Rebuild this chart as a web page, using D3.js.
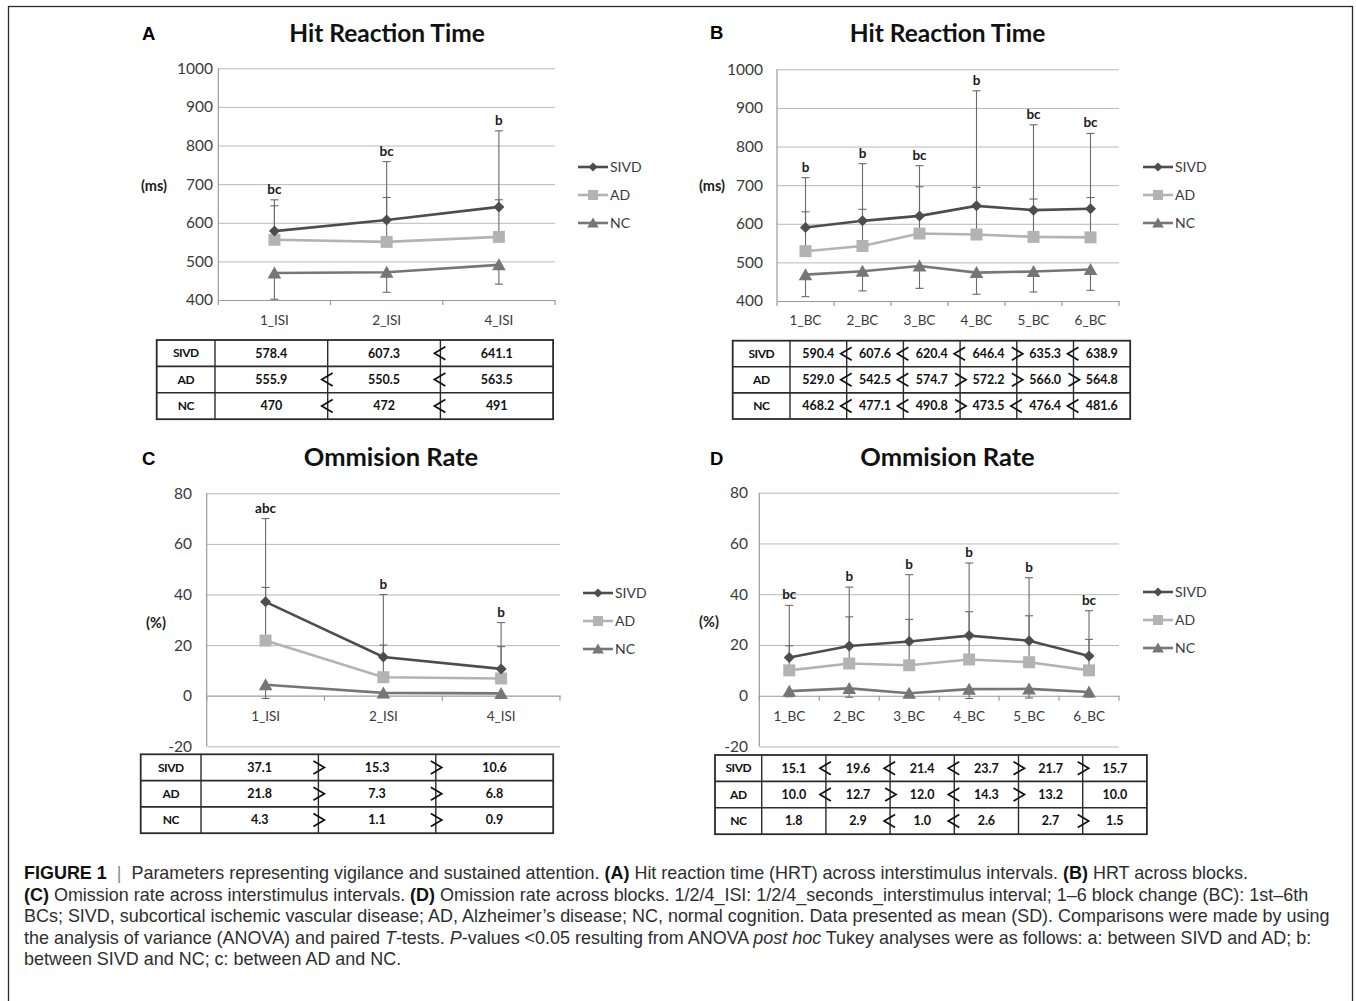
<!DOCTYPE html>
<html><head><meta charset="utf-8">
<script src="https://cdn.jsdelivr.net/npm/d3@7"></script>
<style>
body{margin:0;background:#fff}
svg{display:block}
</style>
</head><body>
<svg id="fig" width="1356" height="1001"></svg>
<script>
// ---------------- DATA ----------------
const groups = ["SIVD", "AD", "NC"];
const isiCats = ["1_ISI", "2_ISI", "4_ISI"];
const bcCats = ["1_BC", "2_BC", "3_BC", "4_BC", "5_BC", "6_BC"];
const hrtTicks = [400, 500, 600, 700, 800, 900, 1000];
const omTicks = [-20, 0, 20, 40, 60, 80];

// Panel A: Hit reaction time across ISI
const hrtIsiSIVD = [578.4, 607.3, 641.1];
const hrtIsiAD = [555.9, 550.5, 563.5];
const hrtIsiNC = [470, 472, 491];
const hrtIsiSdSIVD = [81, 151, 197];
const hrtIsiSdAD = [88, 115, 96];
const hrtIsiSdNC = [68, 52, 50];
const hrtIsiSig = ["bc", "bc", "b"];
const hrtIsiCmpSIVD = ["", "<"];
const hrtIsiCmpAD = ["<", "<"];
const hrtIsiCmpNC = ["<", "<"];

// Panel B: Hit reaction time across blocks
const hrtBcSIVD = [590.4, 607.6, 620.4, 646.4, 635.3, 638.9];
const hrtBcAD = [529.0, 542.5, 574.7, 572.2, 566.0, 564.8];
const hrtBcNC = [468.2, 477.1, 490.8, 473.5, 476.4, 481.6];
const hrtBcSdSIVD = [129, 148, 130, 298, 221, 195];
const hrtBcSdAD = [102, 95, 121, 122, 98, 103];
const hrtBcSdNC = [57, 51, 58, 56, 53, 54];
const hrtBcSig = ["b", "b", "bc", "b", "bc", "bc"];
const hrtBcCmpSIVD = ["<", "<", "<", ">", "<"];
const hrtBcCmpAD = ["<", "<", ">", ">", ">"];
const hrtBcCmpNC = ["<", "<", ">", "<", "<"];

// Panel C: Omission rate across ISI
const omIsiSIVD = [37.1, 15.3, 10.6];
const omIsiAD = [21.8, 7.3, 6.8];
const omIsiNC = [4.3, 1.1, 0.9];
const omIsiSdSIVD = [32.9, 24.7, 18.3];
const omIsiSdAD = [21.0, 12.7, 12.6];
const omIsiSdNC = [5.4, 1.3, 1.2];
const omIsiSig = ["abc", "b", "b"];
const omIsiCmpSIVD = [">", ">"];
const omIsiCmpAD = [">", ">"];
const omIsiCmpNC = [">", ">"];

// Panel D: Omission rate across blocks
const omBcSIVD = [15.1, 19.6, 21.4, 23.7, 21.7, 15.7];
const omBcAD = [10.0, 12.7, 12.0, 14.3, 13.2, 10.0];
const omBcNC = [1.8, 2.9, 1.0, 2.6, 2.7, 1.5];
const omBcSdSIVD = [20.5, 23.2, 26.3, 28.6, 24.8, 17.8];
const omBcSdAD = [9.7, 18.4, 18.1, 18.8, 18.3, 12.2];
const omBcSdNC = [2.2, 3.5, 1.5, 3.7, 3.6, 2.0];
const omBcSig = ["bc", "b", "b", "b", "b", "bc"];
const omBcCmpSIVD = ["<", "<", "<", ">", ">"];
const omBcCmpAD = ["<", ">", "<", ">", ""];
const omBcCmpNC = ["", "<", "<", "", ">"];

// ---------------- STYLE ----------------
const colors = {SIVD: "#4d4d4d", AD: "#b3b3b3", NC: "#767676"};
const errDir = {SIVD: 1, AD: 1, NC: -1};
const FONT = "Lato, 'Open Sans', sans-serif";

const fmt1 = v => v.toFixed(1);
const fmtA = v => Number.isInteger(v) ? String(v) : v.toFixed(1);

const panels = [
  {label: "A", title: "Hit Reaction Time", unit: "(ms)", cats: isiCats, ticks: hrtTicks, axisAt: 400,
   means: {SIVD: hrtIsiSIVD, AD: hrtIsiAD, NC: hrtIsiNC}, sds: {SIVD: hrtIsiSdSIVD, AD: hrtIsiSdAD, NC: hrtIsiSdNC},
   sig: hrtIsiSig, cmp: {SIVD: hrtIsiCmpSIVD, AD: hrtIsiCmpAD, NC: hrtIsiCmpNC}, fmt: fmtA,
   L: {x0: 218.3, x1: 555, yTop: 68.3, yBot: 300, tickRight: 213, unitX: 154, unitY: 186, titleX: 387, titleY: 42, titleFs: 24.5,
       panelX: 142, panelY: 40, legX: 578, legY: 167, catDy: 20,
       tab: {x: 156.7, hw: 58.3, cw: 112.7, y: 340, rh: 26.4}}},
  {label: "B", title: "Hit Reaction Time", unit: "(ms)", cats: bcCats, ticks: hrtTicks, axisAt: 400,
   means: {SIVD: hrtBcSIVD, AD: hrtBcAD, NC: hrtBcNC}, sds: {SIVD: hrtBcSdSIVD, AD: hrtBcSdAD, NC: hrtBcSdNC},
   sig: hrtBcSig, cmp: {SIVD: hrtBcCmpSIVD, AD: hrtBcCmpAD, NC: hrtBcCmpNC}, fmt: fmt1,
   L: {x0: 777, x1: 1119, yTop: 69.3, yBot: 301, tickRight: 763, unitX: 712, unitY: 186, titleX: 947.5, titleY: 42, titleFs: 24.5,
       panelX: 710, panelY: 39, legX: 1143, legY: 167, catDy: 19,
       tab: {x: 732.7, hw: 57.3, cw: 56.7, y: 340.7, rh: 26.1}}},
  {label: "C", title: "Ommision Rate", unit: "(%)", cats: isiCats, ticks: omTicks, axisAt: 0,
   means: {SIVD: omIsiSIVD, AD: omIsiAD, NC: omIsiNC}, sds: {SIVD: omIsiSdSIVD, AD: omIsiSdAD, NC: omIsiSdNC},
   sig: omIsiSig, cmp: {SIVD: omIsiCmpSIVD, AD: omIsiCmpAD, NC: omIsiCmpNC}, fmt: fmt1,
   L: {x0: 206.7, x1: 560, yTop: 493.3, yBot: 746.3, tickRight: 192, unitX: 156, unitY: 623, titleX: 391, titleY: 466, titleFs: 25.5,
       panelX: 142, panelY: 465, legX: 583, legY: 593, catDy: 21,
       tab: {x: 140.7, hw: 60.3, cw: 117.4, y: 754.3, rh: 26.3}}},
  {label: "D", title: "Ommision Rate", unit: "(%)", cats: bcCats, ticks: omTicks, axisAt: 0,
   means: {SIVD: omBcSIVD, AD: omBcAD, NC: omBcNC}, sds: {SIVD: omBcSdSIVD, AD: omBcSdAD, NC: omBcSdNC},
   sig: omBcSig, cmp: {SIVD: omBcCmpSIVD, AD: omBcCmpAD, NC: omBcCmpNC}, fmt: fmt1,
   L: {x0: 759.3, x1: 1119, yTop: 492.7, yBot: 746.5, tickRight: 748, unitX: 709, unitY: 622, titleX: 947.5, titleY: 466, titleFs: 25.5,
       panelX: 710, panelY: 465, legX: 1143, legY: 592, catDy: 20.3,
       tab: {x: 715, hw: 46.7, cw: 64.2, y: 755, rh: 26.4}}}
];

const markerPath = {
  SIVD: "M0,-5.5L5.5,0L0,5.5L-5.5,0Z",
  AD: "M-6,-6H6V6H-6Z",
  NC: "M0,-6.5L6.8,5.5L-6.8,5.5Z"
};
const legendMarker = {
  SIVD: "M0,-4.5L4.5,0L0,4.5L-4.5,0Z",
  AD: "M-5,-5H5V5H-5Z",
  NC: "M0,-5.5L5.8,4.5L-5.8,4.5Z"
};

const svg = d3.select("#fig");
svg.append("rect").attr("width", 1356).attr("height", 1001).attr("fill", "#fff");
svg.append("rect").attr("x", 8.5).attr("y", 6.5).attr("width", 1344).attr("height", 1010)
  .attr("fill", "none").attr("stroke", "#2a2a2a").attr("stroke-width", 1.3);

function drawPanel(p) {
  const L = p.L;
  const g = svg.append("g");
  const x = d3.scaleBand().domain(p.cats).range([L.x0, L.x1]);
  const cx = c => x(c) + x.bandwidth() / 2;
  const y = d3.scaleLinear().domain(d3.extent(p.ticks)).range([L.yBot, L.yTop]);

  // grid
  const grid = g.append("g").attr("transform", `translate(${L.x0},0)`)
    .call(d3.axisLeft(y).tickValues(p.ticks.filter(v => v !== p.axisAt)).tickSize(-(L.x1 - L.x0)).tickFormat(""));
  grid.select(".domain").remove();
  grid.selectAll("line").attr("stroke", "#b8b8b8").attr("stroke-width", 1);

  // y labels
  const ya = g.append("g").attr("transform", `translate(${L.x0},0)`)
    .call(d3.axisLeft(y).tickValues(p.ticks).tickSize(0).tickPadding(L.x0 - L.tickRight).tickFormat(d => String(d)));
  ya.select(".domain").remove();
  ya.selectAll("text").attr("font-family", FONT).attr("font-size", 15.5).attr("fill", "#3a3a3a");

  // y axis line
  g.append("line").attr("x1", L.x0).attr("x2", L.x0).attr("y1", L.yTop).attr("y2", L.yBot)
    .attr("stroke", "#9a9a9a").attr("stroke-width", 1.2);

  // x axis
  const xa = g.append("g").attr("transform", `translate(0,${y(p.axisAt)})`)
    .call(d3.axisBottom(x).tickSize(0));
  xa.select(".domain").attr("stroke", "#9a9a9a").attr("stroke-width", 1.2);
  xa.selectAll("text").attr("font-family", FONT).attr("font-size", 13.5).attr("fill", "#3a3a3a")
    .attr("y", L.catDy).attr("dy", "0.35em");
  const bounds = p.cats.map(c => x(c)).concat([L.x1]);
  g.selectAll("line.xt").data(bounds).join("line")
    .attr("x1", d => d).attr("x2", d => d).attr("y1", y(p.axisAt)).attr("y2", y(p.axisAt) + 5)
    .attr("stroke", "#9a9a9a").attr("stroke-width", 1.2);

  // error bars
  groups.forEach(grp => {
    const eb = g.append("g");
    p.cats.forEach((c, i) => {
      const m = p.means[grp][i], e = m + errDir[grp] * p.sds[grp][i];
      eb.append("line").attr("x1", cx(c)).attr("x2", cx(c)).attr("y1", y(m)).attr("y2", y(e))
        .attr("stroke", "#6a6a6a").attr("stroke-width", 1.1);
      eb.append("line").attr("x1", cx(c) - 4).attr("x2", cx(c) + 4).attr("y1", y(e)).attr("y2", y(e))
        .attr("stroke", "#6a6a6a").attr("stroke-width", 1.1);
    });
  });

  // lines + markers
  ["AD", "NC", "SIVD"].forEach(grp => {
    const pts = p.cats.map((c, i) => [cx(c), y(p.means[grp][i])]);
    g.append("path").attr("d", d3.line()(pts)).attr("fill", "none")
      .attr("stroke", colors[grp]).attr("stroke-width", 2.6);
    g.selectAll(null).data(pts).join("path")
      .attr("transform", d => `translate(${d[0]},${d[1]})`).attr("d", markerPath[grp]).attr("fill", colors[grp]);
  });

  // significance letters
  g.selectAll("text.sig").data(p.cats).join("text")
    .attr("x", c => cx(c))
    .attr("y", (c, i) => y(p.means.SIVD[i] + p.sds.SIVD[i]) - 6)
    .attr("text-anchor", "middle").attr("font-family", FONT).attr("font-weight", "bold")
    .attr("font-size", 13.5).attr("fill", "#1a1a1a").text((c, i) => p.sig[i]);

  // unit label
  g.append("text").attr("x", L.unitX).attr("y", L.unitY).attr("dy", "0.35em").attr("text-anchor", "middle")
    .attr("font-family", FONT).attr("font-weight", "bold").attr("font-size", 14.5).attr("fill", "#1a1a1a").text(p.unit);

  // title
  g.append("text").attr("x", L.titleX).attr("y", L.titleY).attr("text-anchor", "middle")
    .attr("font-family", FONT).attr("font-weight", "bold").attr("font-size", L.titleFs).attr("fill", "#111").text(p.title);
  // panel letter
  g.append("text").attr("x", L.panelX).attr("y", L.panelY)
    .attr("font-family", "'Liberation Sans', Arial, sans-serif").attr("font-weight", "bold")
    .attr("font-size", 18.5).attr("fill", "#000").text(p.label);

  // legend
  groups.forEach((grp, i) => {
    const ly = L.legY + i * 28;
    g.append("line").attr("x1", L.legX).attr("x2", L.legX + 30).attr("y1", ly).attr("y2", ly)
      .attr("stroke", colors[grp]).attr("stroke-width", 2.6);
    g.append("path").attr("transform", `translate(${L.legX + 15},${ly})`).attr("d", legendMarker[grp]).attr("fill", colors[grp]);
    g.append("text").attr("x", L.legX + 32).attr("y", ly).attr("dy", "0.35em")
      .attr("font-family", FONT).attr("font-size", 14).attr("fill", "#3a3a3a").text(grp);
  });

  // table
  const T = L.tab;
  const n = p.cats.length;
  const tw = T.hw + n * T.cw, th = 3 * T.rh;
  const tg = g.append("g");
  const stroke = "#2b2b2b";
  tg.append("rect").attr("x", T.x).attr("y", T.y).attr("width", tw).attr("height", th)
    .attr("fill", "none").attr("stroke", stroke).attr("stroke-width", 1.8);
  [1, 2].forEach(r => tg.append("line").attr("x1", T.x).attr("x2", T.x + tw)
    .attr("y1", T.y + r * T.rh).attr("y2", T.y + r * T.rh).attr("stroke", stroke).attr("stroke-width", 1.6));
  d3.range(n).forEach(j => tg.append("line").attr("x1", T.x + T.hw + j * T.cw).attr("x2", T.x + T.hw + j * T.cw)
    .attr("y1", T.y).attr("y2", T.y + th).attr("stroke", stroke).attr("stroke-width", 1.4));
  groups.forEach((grp, r) => {
    const ry = T.y + (r + 0.5) * T.rh;
    tg.append("text").attr("x", T.x + T.hw / 2).attr("y", ry).attr("dy", "0.35em").attr("text-anchor", "middle")
      .attr("font-family", FONT).attr("font-weight", "bold").attr("font-size", 12).attr("letter-spacing", -0.5)
      .attr("fill", "#111").text(grp);
    p.means[grp].forEach((v, j) => {
      tg.append("text").attr("x", T.x + T.hw + (j + 0.5) * T.cw).attr("y", ry).attr("dy", "0.35em")
        .attr("text-anchor", "middle").attr("font-family", FONT).attr("font-weight", "bold")
        .attr("font-size", 12.5).attr("fill", "#111").text(p.fmt(v));
    });
    p.cmp[grp].forEach((s, j) => {
      if (!s) return;
      const bx = T.x + T.hw + (j + 1) * T.cw;
      const d = s === "<"
        ? `M${bx + 5},${ry - 6.5}L${bx - 6},${ry}L${bx + 5},${ry + 6.5}`
        : `M${bx - 5},${ry - 6.5}L${bx + 6},${ry}L${bx - 5},${ry + 6.5}`;
      tg.append("path").attr("d", d).attr("fill", "none").attr("stroke", "#111").attr("stroke-width", 1.7);
    });
  });
}
panels.forEach(drawPanel);

// ---------------- CAPTION ----------------
const captionLines = [
  [["b", "FIGURE 1"], ["bar", "  |  "], ["n", "Parameters representing vigilance and sustained attention. "], ["b", "(A)"],
   ["n", " Hit reaction time (HRT) across interstimulus intervals. "], ["b", "(B)"], ["n", " HRT across blocks."]],
  [["b", "(C)"], ["n", " Omission rate across interstimulus intervals. "], ["b", "(D)"],
   ["n", " Omission rate across blocks. 1/2/4_ISI: 1/2/4_seconds_interstimulus interval; 1–6 block change (BC): 1st–6th"]],
  [["n", "BCs; SIVD, subcortical ischemic vascular disease; AD, Alzheimer’s disease; NC, normal cognition. Data presented as mean (SD). Comparisons were made by using"]],
  [["n", "the analysis of variance (ANOVA) and paired "], ["i", "T"], ["n", "-tests. "], ["i", "P"],
   ["n", "-values <0.05 resulting from ANOVA "], ["i", "post hoc"], ["n", " Tukey analyses were as follows: a: between SIVD and AD; b:"]],
  [["n", "between SIVD and NC; c: between AD and NC."]]
];
const cap = svg.append("g");
const capTexts = captionLines.map((segs, i) => {
  const t = cap.append("text").attr("x", 24).attr("y", 879 + i * 21.5)
    .attr("font-family", "'Liberation Sans', Arial, sans-serif").attr("font-size", 15)
    .attr("fill", "#2e2e2e").style("white-space", "pre");
  segs.forEach(([k, s]) => {
    const ts = t.append("tspan").text(s);
    if (k === "b") ts.attr("font-weight", "bold").attr("fill", "#111");
    if (k === "i") ts.attr("font-style", "italic");
    if (k === "bar") ts.attr("fill", "#888");
  });
  return t;
});
// fit caption font so that line 3 spans the measured width
const w3 = capTexts[2].node().getComputedTextLength();
const fs = 15 * 1306 / w3;
capTexts.forEach(t => t.attr("font-size", fs));
</script>
</body></html>
